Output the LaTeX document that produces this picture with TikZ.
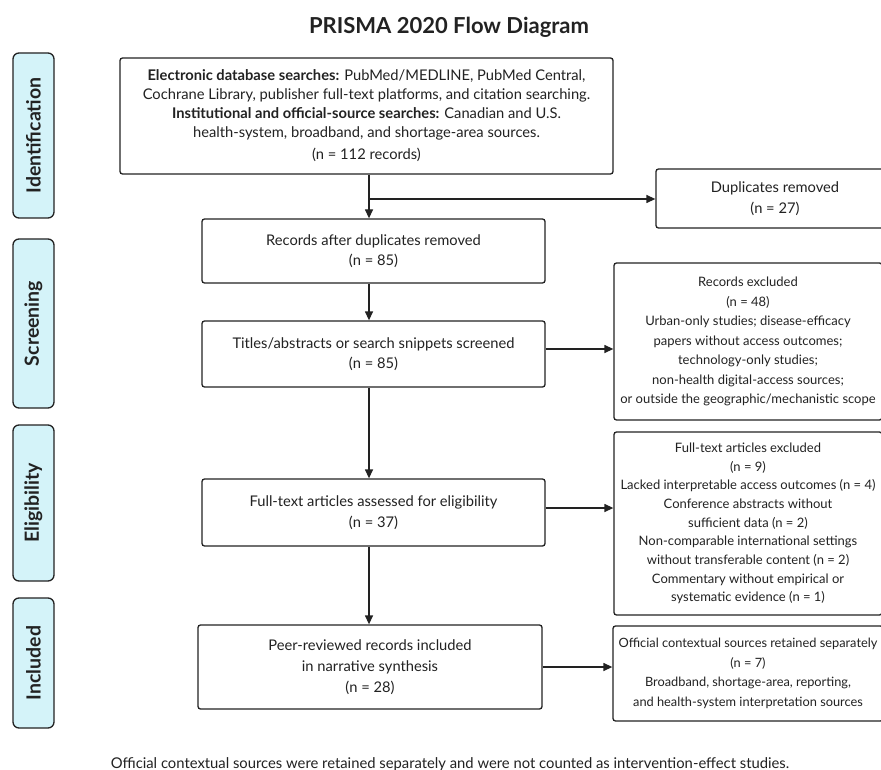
\documentclass[tikz,border=0pt]{standalone}
\usepackage{fontspec}
\setmainfont{Lato}
\usetikzlibrary{arrows.meta}
\definecolor{stagefill}{HTML}{D4F3F9}
\definecolor{ink}{HTML}{222222}
\begin{document}
\begin{tikzpicture}[x=1pt,y=-1pt,
  box/.style={draw=ink, line width=1.3pt, rounded corners=2.5pt, align=center,
    inner sep=0pt, text=ink, font=\fontsize{14.7}{20.5}\selectfont},
  sidebox/.style={box, font=\fontsize{13}{19.5}\selectfont},
  stage/.style={draw=ink, fill=stagefill, rounded corners=6pt, line width=1.3pt,
    inner sep=0pt, text=ink, font=\bfseries\fontsize{19.5}{22}\selectfont},
  arr/.style={draw=ink, line width=1.3pt, -{Triangle[length=9pt,width=8pt]}}]
\useasboundingbox (0,0) rectangle (881,770);
\clip (0,0) rectangle (881,770);
\fill[white] (0,0) rectangle (881,770);

\node[font=\bfseries\fontsize{22}{26}\selectfont, text=ink] (title) at (449,27) {PRISMA 2020 Flow Diagram};

% stage labels
\node[stage, minimum width=165pt, minimum height=41pt, rotate=90] (sid) at (33.5,135.5) {Identification};
\node[stage, minimum width=169pt, minimum height=41pt, rotate=90] (ssc) at (33.5,323.5) {Screening};
\node[stage, minimum width=156pt, minimum height=41pt, rotate=90] (sel) at (33.5,503) {Eligibility};
\node[stage, minimum width=130pt, minimum height=41pt, rotate=90] (sin) at (33.5,663) {Included};

% main column
\node[box, minimum width=493pt, minimum height=116pt, font=\fontsize{14.7}{19}\selectfont] (top) at (366.5,116)
 {\textbf{Electronic database searches:} PubMed/MEDLINE, PubMed Central,\\
  Cochrane Library, publisher full-text platforms, and citation searching.\\
  \textbf{Institutional and official-source searches:} Canadian and U.S.\\
  health-system, broadband, and shortage-area sources.\\[3pt]
  (n = 112 records)};
\node[box, minimum width=343pt, minimum height=64pt] (rec) at (373.5,251)
 {Records after duplicates removed\\(n = 85)};
\node[box, minimum width=343pt, minimum height=66pt] (tit) at (373.5,354)
 {Titles/abstracts or search snippets screened\\(n = 85)};
\node[box, minimum width=343pt, minimum height=67pt] (full) at (373.5,512.5)
 {Full-text articles assessed for eligibility\\(n = 37)};
\node[box, minimum width=344pt, minimum height=84pt, font=\fontsize{14.7}{21}\selectfont] (peer) at (370,667)
 {Peer-reviewed records included\\in narrative synthesis\\(n = 28)};

% right column
\node[box, minimum width=238pt, minimum height=59pt] (dup) at (775,198.5)
 {Duplicates removed\\(n = 27)};
\node[sidebox, minimum width=268pt, minimum height=157pt] (excl) at (748,341.5)
 {Records excluded\\(n = 48)\\Urban-only studies; disease-efficacy\\papers without access outcomes;\\technology-only studies;\\non-health digital-access sources;\\or outside the geographic/mechanistic scope};
\node[sidebox, minimum width=268pt, minimum height=183pt, font=\fontsize{13}{18.7}\selectfont] (ftex) at (748,523.5)
 {Full-text articles excluded\\(n = 9)\\Lacked interpretable access outcomes (n = 4)\\Conference abstracts without\\sufficient data (n = 2)\\Non-comparable international settings\\without transferable content (n = 2)\\Commentary without empirical or\\systematic evidence (n = 1)};
\node[sidebox, minimum width=270pt, minimum height=95pt, font=\fontsize{12.8}{19.7}\selectfont] (off) at (748,673.5)
 {Official contextual sources retained separately\\(n = 7)\\Broadband, shortage-area, reporting,\\and health-system interpretation sources};

\node[anchor=base, text=ink, font=\fontsize{14.8}{18}\selectfont] (foot) at (450,768)
 {Official contextual sources were retained separately and were not counted as intervention-effect studies.};

% connectors
\coordinate (col) at (369,0);
\coordinate (j) at (369,199);
\draw[arr] (top.south -| col) -- (rec.north -| col);
\draw[arr] (j) -- (j -| dup.west);
\draw[arr] (rec.south -| col) -- (tit.north -| col);
\draw[arr] (tit.south -| col) -- (full.north -| col);
\draw[arr] (full.south -| col) -- (peer.north -| col);
\draw[arr] ([yshift=5pt]tit.east) -- ([yshift=5pt]tit.east -| excl.west);
\draw[arr] ([yshift=4.5pt]full.east) -- ([yshift=4.5pt]full.east -| ftex.west);
\draw[arr] (peer.east) -- (peer.east -| off.west);
\end{tikzpicture}
\end{document}
